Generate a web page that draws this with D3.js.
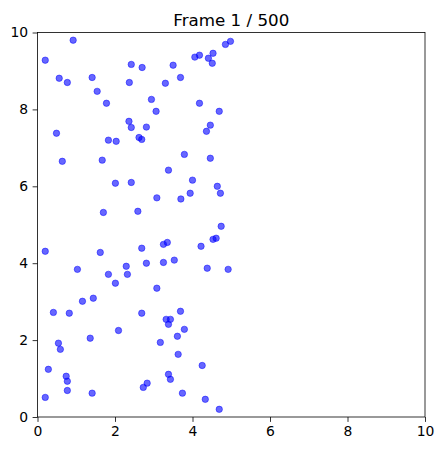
<!DOCTYPE html>
<html>
<head>
<meta charset="utf-8">
<script src="https://cdn.jsdelivr.net/npm/d3@7"></script>
<style>
  html, body { margin: 0; padding: 0; background: #fff; }
  svg { display: block; font-family: "DejaVu Sans", sans-serif; }
</style>
</head>
<body>
<script>
const title = "Frame 1 / 500";
const xTicks = [0, 2, 4, 6, 8, 10];
const yTicks = [0, 2, 4, 6, 8, 10];
const xs = [0.92,0.20,0.56,0.77,1.41,1.54,1.78,2.42,2.70,2.37,2.94,3.06,3.30,3.50,3.69,4.06,4.18,4.41,4.53,4.51,4.85,4.98,4.18,4.69,4.46,4.36,2.36,2.42,2.81,0.49,1.83,2.03,2.62,2.69,0.64,1.67,3.79,4.46,3.38,2.01,2.42,4.00,4.64,4.72,3.08,3.70,3.94,1.70,2.59,4.74,4.53,4.61,4.22,0.20,1.62,2.69,3.25,3.35,2.81,3.25,3.53,2.29,2.32,1.03,1.83,2.01,4.38,4.92,3.08,1.44,1.16,0.41,0.82,2.69,3.69,3.32,3.43,3.38,2.09,3.79,0.54,0.59,1.36,3.17,3.61,3.63,4.25,0.28,0.74,0.77,0.77,3.38,3.43,2.83,2.73,0.20,1.41,3.74,4.33,4.69];
const ys = [9.80,9.28,8.81,8.70,8.83,8.47,8.16,9.17,9.09,8.70,8.26,7.95,8.68,9.15,8.83,9.36,9.41,9.33,9.46,9.20,9.69,9.77,8.16,7.95,7.59,7.43,7.69,7.53,7.54,7.38,7.20,7.17,7.27,7.22,6.65,6.68,6.83,6.73,6.42,6.08,6.10,6.16,6.00,5.82,5.70,5.67,5.82,5.32,5.35,4.96,4.62,4.65,4.44,4.31,4.28,4.39,4.49,4.54,4.00,4.02,4.08,3.92,3.71,3.84,3.71,3.48,3.87,3.84,3.35,3.09,3.01,2.72,2.70,2.70,2.75,2.54,2.54,2.41,2.25,2.28,1.92,1.76,2.05,1.94,2.10,1.63,1.34,1.24,1.06,0.93,0.69,1.11,0.98,0.88,0.77,0.51,0.62,0.62,0.46,0.20];

const W = 443, H = 451;
const m = { left: 37.5, right: 425, top: 32.5, bottom: 417 };

const svg = d3.select("body").append("svg").attr("width", W).attr("height", H);

const x = d3.scaleLinear().domain([0, 10]).range([m.left, m.right]);
const y = d3.scaleLinear().domain([0, 10]).range([m.bottom, m.top]);

// points
const pts = xs.map((v, i) => ({ x: v, y: ys[i] }));
svg.append("g").selectAll("circle").data(pts).join("circle")
  .attr("cx", d => x(d.x)).attr("cy", d => y(d.y)).attr("r", 3.2)
  .attr("fill", "rgb(0,0,255)").attr("fill-opacity", 0.6)
  .attr("stroke", "rgb(0,0,255)").attr("stroke-opacity", 0.6).attr("stroke-width", 0.8);

// axes
const xAxis = d3.axisBottom(x).tickValues(xTicks).tickSize(4.9).tickPadding(4.5).tickFormat(d3.format("d"));
const yAxis = d3.axisLeft(y).tickValues(yTicks).tickSize(4.9).tickPadding(4.5).tickFormat(d3.format("d"));

const gx = svg.append("g").attr("transform", `translate(0,${m.bottom})`).call(xAxis);
const gy = svg.append("g").attr("transform", `translate(${m.left},0)`).call(yAxis);
[gx, gy].forEach(g => {
  g.select(".domain").remove();
  g.selectAll("line").attr("stroke", "#000").attr("stroke-width", 0.8);
  g.selectAll("text").attr("fill", "#000").attr("font-size", "13.9px").attr("font-family", "DejaVu Sans");
});

// frame
svg.append("rect").attr("x", m.left).attr("y", m.top)
  .attr("width", m.right - m.left).attr("height", m.bottom - m.top)
  .attr("fill", "none").attr("stroke", "#000").attr("stroke-width", 0.8);

// title
svg.append("text").attr("x", (m.left + m.right) / 2).attr("y", m.top - 7)
  .attr("text-anchor", "middle").attr("font-size", "16.7px").attr("fill", "#000")
  .attr("font-family", "DejaVu Sans").text(title);
</script>
</body>
</html>
